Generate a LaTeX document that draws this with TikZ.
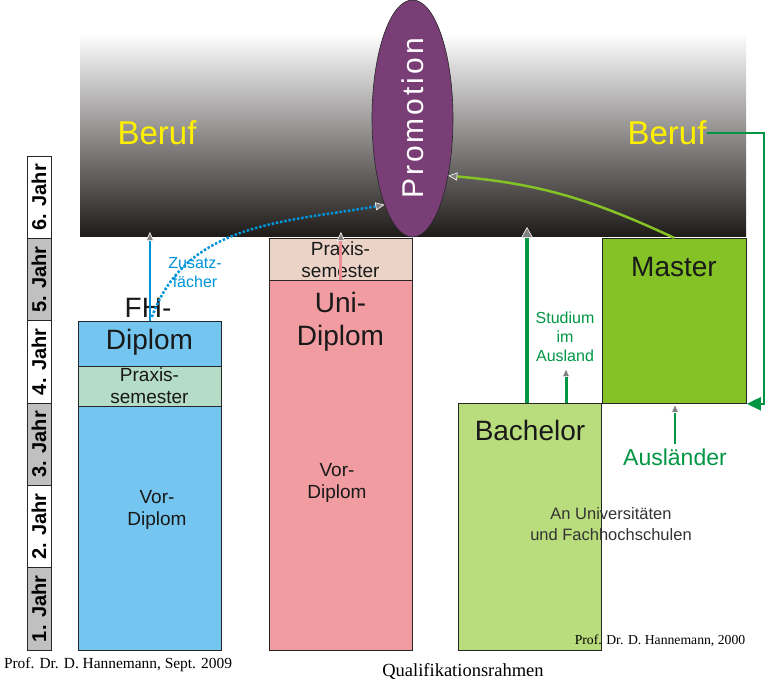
\documentclass[tikz,border=0pt]{standalone}
\usepackage{fontspec}
\setmainfont{Liberation Serif}
\setsansfont{Liberation Sans}
\usetikzlibrary{shapes.geometric,arrows.meta,calc}

\definecolor{fhblue}{RGB}{116,197,239}
\definecolor{fhgreen}{RGB}{180,220,198}
\definecolor{unisand}{RGB}{236,211,200}
\definecolor{unirose}{RGB}{240,156,160}
\definecolor{bachgreen}{RGB}{185,220,125}
\definecolor{mastgreen}{RGB}{133,194,38}
\definecolor{promopurple}{RGB}{122,62,118}
\definecolor{berufyellow}{RGB}{255,240,0}
\definecolor{jgray}{RGB}{192,192,192}
\definecolor{lineblue}{RGB}{0,148,218}
\definecolor{linepink}{RGB}{240,140,150}
\definecolor{darkgreen}{RGB}{0,150,68}
\definecolor{bardark}{RGB}{30,26,24}
\definecolor{barmid}{RGB}{135,132,131}

\tikzset{
  box/.style={draw=black!85, line width=0.8pt, inner sep=0pt, anchor=north west},
  lbl/.style={font=\sffamily, align=center, inner sep=0pt, text=black!90},
  big/.style={font=\sffamily\fontsize{28}{33}\selectfont},
  mid/.style={font=\sffamily\fontsize{19}{22}\selectfont},
  jahr/.style={draw=black!85, line width=0.8pt, rotate=90, minimum width=82.33,
    minimum height=24, inner sep=0pt, font=\sffamily\bfseries\fontsize{20}{20}\selectfont},
  gtri/.tip={Triangle[length=9pt,width=8pt,color=white,fill=gray,line width=0.6pt]},
  gtrib/.tip={Triangle[length=11pt,width=12pt,color=white,fill=gray,line width=0.6pt]},
}

\begin{document}
\begin{tikzpicture}[x=1pt,y=1pt]
    \useasboundingbox (0,0) rectangle (766,681);
    \node (bar) [anchor=south west, minimum width=666, minimum height=204, inner sep=0pt,
      top color=white, middle color=barmid, bottom color=bardark] at (80,444) {};
    \foreach \i/\c in {1/jgray,2/white,3/jgray,4/white,5/jgray,6/white}
      \node (j\i) [jahr, fill=\c] at (39,{31+(\i-0.5)*82.33}) {\i. Jahr};
    \path node (fhdip) [box, fill=fhblue, minimum width=143, minimum height=45] at (78,360) {}
          node (fhprx) [box, fill=fhgreen, minimum width=143, minimum height=40] at (78,315) {}
          node (fhvor) [box, fill=fhblue, minimum width=143, minimum height=244] at (78,275) {}
          node (uniprx) [box, fill=unisand, minimum width=143, minimum height=42] at (269,443) {}
          node (unidip) [box, fill=unirose, minimum width=143, minimum height=370] at (269,401) {}
          node (bach) [box, fill=bachgreen, minimum width=143, minimum height=247] at (458,278) {}
          node (mast) [box, fill=mastgreen, minimum width=144, minimum height=165] at (602,443) {};
    \node (promo) [ellipse, draw=black!85, line width=0.6pt, fill=promopurple, minimum width=81,
      minimum height=237, inner sep=0pt, text=white,
      font=\sffamily\fontsize{30}{30}\selectfont\addfontfeatures{LetterSpace=10}]
      at (412.5,562.5) {\rotatebox{90}{Promotion}};
    \node (berufl) [lbl, text=berufyellow, font=\sffamily\fontsize{33}{33}\selectfont] at (157,548) {Beruf};
    \node (berufr) [lbl, text=berufyellow, font=\sffamily\fontsize{33}{33}\selectfont] at (667,548) {Beruf};
    \node (fhtop) [lbl, big] at (148,373) {FH-};
    \node (fhdiptx) [lbl, big] at (149.5,339) {Diplom};
    \node (fhprxtx) [lbl, mid] at (149.5,295) {Praxis-\\semester};
    \node (fhvortx) [lbl, mid] at (157,171) {Vor-\\Diplom};
    \node (uniprxtx) [lbl, mid] at (340.5,421) {Praxis-\\semester};
    \node (unidiptx) [lbl, big] at (340.5,359) {Uni-\\Diplom};
    \node (univortx) [lbl, mid] at (337,198) {Vor-\\Diplom};
    \node (bachtx) [lbl, big] at (530,251) {Bachelor};
    \node (masttx) [lbl, big] at (674,414) {Master};
    \node (zusatz) [lbl, text=lineblue, font=\sffamily\fontsize{16}{19}\selectfont] at (195,408) {Zusatz-\\fächer};
    \node (ausland) [lbl, text=darkgreen, font=\sffamily\fontsize{16}{19}\selectfont] at (565,344) {Studium\\im\\Ausland};
    \node (ausl) [lbl, inner sep=4pt, text=darkgreen, font=\sffamily\fontsize{23}{23}\selectfont] at (675,224) {Ausländer};
    \node (anuni) [lbl, text=black!80, font=\sffamily\fontsize{16.5}{21}\selectfont] at (611,157) {An Universitäten\\und Fachhochschulen};
    \node (prof2000) [inner sep=0pt, font=\fontsize{13.7}{13.7}\selectfont] at (660,40) {Prof. Dr. D. Hannemann, 2000};
    \node (prof2009) [inner sep=0pt, font=\fontsize{15.4}{15.4}\selectfont] at (118,16) {Prof. Dr. D. Hannemann, Sept. 2009};
    \node (qrahmen) [inner sep=0pt, font=\fontsize{18.5}{18.5}\selectfont] at (463,10) {Qualifikationsrahmen};
    \draw [lineblue, line width=2pt, -gtri] (fhdip.north) -- ($(fhdip.north |- bar.south)+(0,5)$);
    \draw [lineblue, line width=2.5pt, dash pattern=on 2.5pt off 1.8pt, -gtri]
      ($(fhdip.north)+(2,4)$) to[out=70,in=190] (promo.252);
    \draw [linepink, line width=3pt, -gtri] (unidip.north) -- ($(unidip.north |- bar.south)+(0,5)$);
    \draw [darkgreen, line width=4pt, -gtrib] ($(bach.north west)+(69,0)$) -- ++(0,176);
    \draw [darkgreen, line width=3pt, -gtri] ($(bach.north west)+(108,0)$) -- ++(0,35);
    \draw [mastgreen, line width=2.5pt, -gtri] (mast.north) to[out=155,in=-5] (promo.302);
    \draw [darkgreen, line width=2pt, -gtri] (ausl.north) -- (ausl.north |- mast.south);
    \draw [darkgreen, line width=2pt, -{Triangle[length=14pt,width=13pt]}]
      (berufr.east) -| ($(mast.south east)+(17,0)$) -- (mast.south east);
\end{tikzpicture}
\end{document}
